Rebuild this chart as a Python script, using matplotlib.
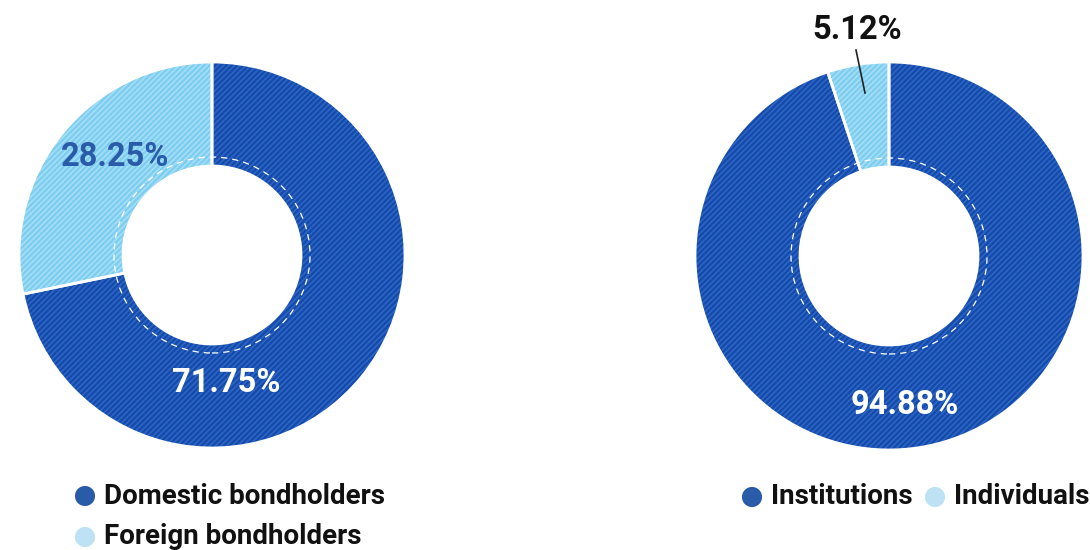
import matplotlib
matplotlib.use("Agg")
import matplotlib.pyplot as plt
from matplotlib.patches import Circle

plt.rcParams["font.family"] = ["Roboto", "DejaVu Sans"]
plt.rcParams["hatch.linewidth"] = 1.2

# data
holder_labels = ["Domestic bondholders", "Foreign bondholders"]
holder_values = [71.75, 28.25]
type_labels = ["Institutions", "Individuals"]
type_values = [94.88, 5.12]

dark = "#154aab"
dark_tex = "#2c66c4"
light = "#7ccdf0"
light_tex = "#a6def6"
legend_dark = "#2a5ba8"
legend_light = "#bde2f4"

W, H = 1090, 550
fig = plt.figure(figsize=(10.9, 5.5), dpi=100)
ax = fig.add_axes([0, 0, 1, 1])


def py(y):
    # pixel row from top -> data y
    return H - y


def donut(values, center, r_out, r_in, r_dash):
    ax.pie(values, radius=r_out, center=center, startangle=90, counterclock=False,
           colors=[dark, light], frame=True,
           wedgeprops=dict(width=r_out - r_in, linewidth=0, hatch="//////"))
    # hatch colours follow the edge colour, so set it per wedge
    wedges = ax.patches[-len(values):]
    for w, tex in zip(wedges, [dark_tex, light_tex]):
        w.set_edgecolor(tex)
        w.set_linewidth(0)
    ax.pie(values, radius=r_out, center=center, startangle=90, counterclock=False,
           colors=["none", "none"], frame=True,
           wedgeprops=dict(width=r_out - r_in, linewidth=2, edgecolor="white"))
    ax.add_patch(Circle(center, r_dash, fill=False, ec="white", lw=0.9, ls=(0, (5, 4))))


donut(holder_values, (212, py(255)), 193, 89, 98)
donut(type_values, (889, py(256)), 194, 89, 98)

ax.set_xlim(0, W)
ax.set_ylim(0, H)
ax.set_aspect("equal")
ax.axis("off")

# value labels
lab = dict(fontsize=23.5, fontweight="bold", ha="center", va="center")
ax.text(226, py(383), f"{holder_values[0]:.2f}%", color="white", **lab)
ax.text(115, py(157), f"{holder_values[1]:.2f}%", color=legend_dark, **lab)
ax.text(905, py(405), f"{type_values[0]:.2f}%", color="white", **lab)
ax.text(857, py(30), f"{type_values[1]:.2f}%", color="#111111", **lab)
ax.plot([856, 865], [py(50), py(93)], color="#222222", lw=1.2)

# legends
leg = dict(fontsize=20, fontweight="bold", va="center", color="#111111")
ax.scatter([85, 85], [py(496), py(537)], s=210, c=[legend_dark, legend_light], lw=0)
ax.text(104, py(496), holder_labels[0], **leg)
ax.text(104, py(537), holder_labels[1], **leg)
ax.scatter([752, 935], [py(497), py(497)], s=210, c=[legend_dark, legend_light], lw=0)
ax.text(771, py(497), type_labels[0], **leg)
ax.text(954, py(497), type_labels[1], **leg)

fig.savefig("out.png", dpi=100)
